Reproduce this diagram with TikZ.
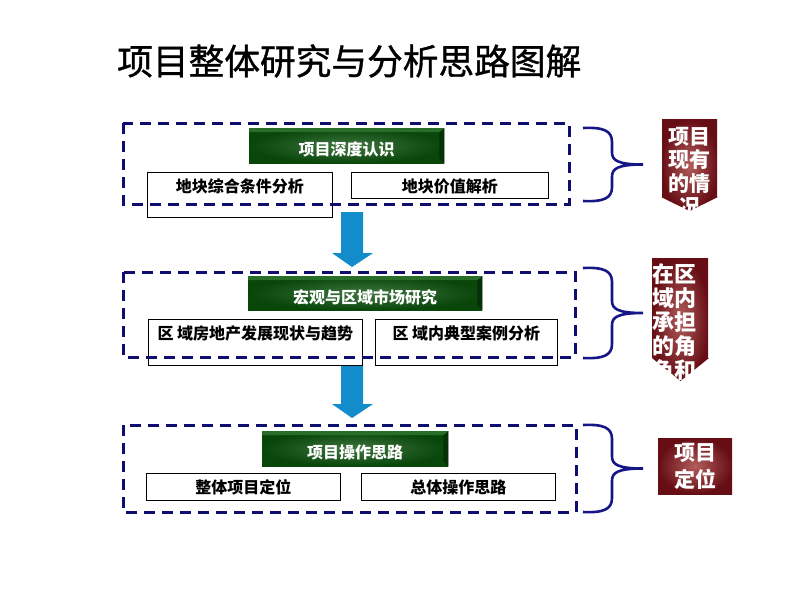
\documentclass[tikz,border=0pt]{standalone}
\usepackage{fontspec}
\setmainfont{Noto Sans CJK SC}
\newfontfamily\titlefont[FakeBold=1]{Noto Sans CJK SC}
\usetikzlibrary{calc}
\usepackage{xcolor}

\definecolor{dashnavy}{RGB}{14,14,110}
\definecolor{bracenavy}{RGB}{22,22,135}
\definecolor{arrowblue}{RGB}{18,140,202}
\definecolor{hgreenin}{RGB}{62,118,62}
\definecolor{hgreenout}{RGB}{8,70,10}
\definecolor{hgreendark}{RGB}{6,48,8}
\definecolor{hgreenlight}{RGB}{40,110,40}
\definecolor{redin}{RGB}{178,92,92}
\definecolor{redout}{RGB}{102,14,20}

\begin{document}
\begin{tikzpicture}[x=1pt, y=-1pt,
  txtbox/.style={draw=black, line width=0.8pt, fill=white, inner sep=0pt, anchor=north west,
    text height=20pt, font=\fontsize{16}{18}\selectfont\bfseries},
  headbox/.style={inner sep=0pt, anchor=north west, inner color=hgreenin, outer color=hgreenout,
    text=white, text height=20pt, text depth=0pt, font=\fontsize{16}{18}\selectfont\bfseries},
  redtxt/.style={inner sep=0pt, text=white, font=\fontsize{21}{23.5}\selectfont\bfseries},
  dashbox/.style={dashnavy, line width=3pt, dash pattern=on 11pt off 7pt},
  bracepath/.style={bracenavy, line width=2.6pt}]

% Page
\fill[white] (0,0) rectangle (800,600);
\useasboundingbox (0,0) rectangle (800,600);

% Title
\node[anchor=west, inner sep=0pt, font=\fontsize{35.7}{40}\selectfont\titlefont] (title) at (117,61) {项目整体研究与分析思路图解};

% Blue arrows
\foreach \y in {212, 363}
  \fill[arrowblue] (341,\y) -- (363,\y) -- (363,\y+41) -- (373,\y+41) -- (352,\y+55) -- (332,\y+41) -- (341,\y+41) -- cycle;

% Green headers
\node[headbox, minimum width=195pt, minimum height=35pt] (h1) at (249,128) {项目深度认识};
\node[headbox, minimum width=234pt, minimum height=34pt] (h2) at (248,276) {宏观与区域市场研究};
\node[headbox, minimum width=186pt, minimum height=35pt] (h3) at (262,431) {项目操作思路};
\foreach \h in {h1, h2, h3} {
  \fill[hgreendark] (\h.north east) -- (\h.south east) -- ++(-5,-5) -- ([shift={(-5,4)}]\h.north east) -- cycle;
  \fill[hgreenlight] (\h.north west) -- (\h.north east) -- ++(-5,4) -- ([shift={(0,4)}]\h.north west) -- cycle;
}

% Text boxes
\node[txtbox, minimum width=185pt, text depth=25pt] (b11) at (147,172) {地块综合条件分析};
\node[txtbox, minimum width=197pt, text depth=6pt] (b12) at (351,172) {地块价值解析};
\node[txtbox, minimum width=214pt, text depth=26pt] (b21) at (148,319) {区 域房地产发展现状与趋势};
\node[txtbox, minimum width=182pt, text depth=26pt] (b22) at (375,319) {区 域内典型案例分析};
\node[txtbox, minimum width=194pt, text depth=7pt] (b31) at (146,473) {整体项目定位};
\node[txtbox, minimum width=194pt, text depth=7pt] (b32) at (361,473) {总体操作思路};

% Dashed frames
\draw[dashbox] (123,123) rectangle (569,204);
\draw[dashbox] (123,272) rectangle (575,357);
\draw[dashbox] (123,425) rectangle (576,512);

% Braces
\foreach \t/\b in {128/201, 268/358, 425/512} {
  \pgfmathsetmacro{\m}{(\t+\b)/2}
  \draw[bracepath] (583,\t) .. controls (604,\t-1) and (612,\t+3) .. (612,\t+14) -- (612,\m-12)
    .. controls (612,\m-4) and (618,\m) .. (643,\m)
    .. controls (618,\m) and (612,\m+4) .. (612,\m+12) -- (612,\b-14)
    .. controls (612,\b-3) and (604,\b+1) .. (583,\b);
}

% Red callouts
\shade[inner color=redin, outer color=redout] (662,119) -- (717,119) -- (717,197) -- (718,197) -- (689.5,211) -- (661,197) -- (662,197) -- cycle;
\node[redtxt, anchor=north, align=center] (r1) at (689.5,127) {项目\\现有\\的情\\况};

\shade[inner color=redin, outer color=redout] (652,258) -- (708,258) -- (708,358) -- (709,358) -- (680.5,381) -- (652,358) -- cycle;
\node[redtxt, anchor=north west, align=left, font=\fontsize{22}{24}\selectfont\bfseries] (r2) at (652,263) {在区\\域内\\承担\\的角\\色和};

\node[redtxt, inner color=redin, outer color=redout, minimum width=74pt, minimum height=56pt, align=center,
  font=\fontsize{21}{27}\selectfont\bfseries] (r3) at (695,466) {项目\\定位};

\end{tikzpicture}
\end{document}
